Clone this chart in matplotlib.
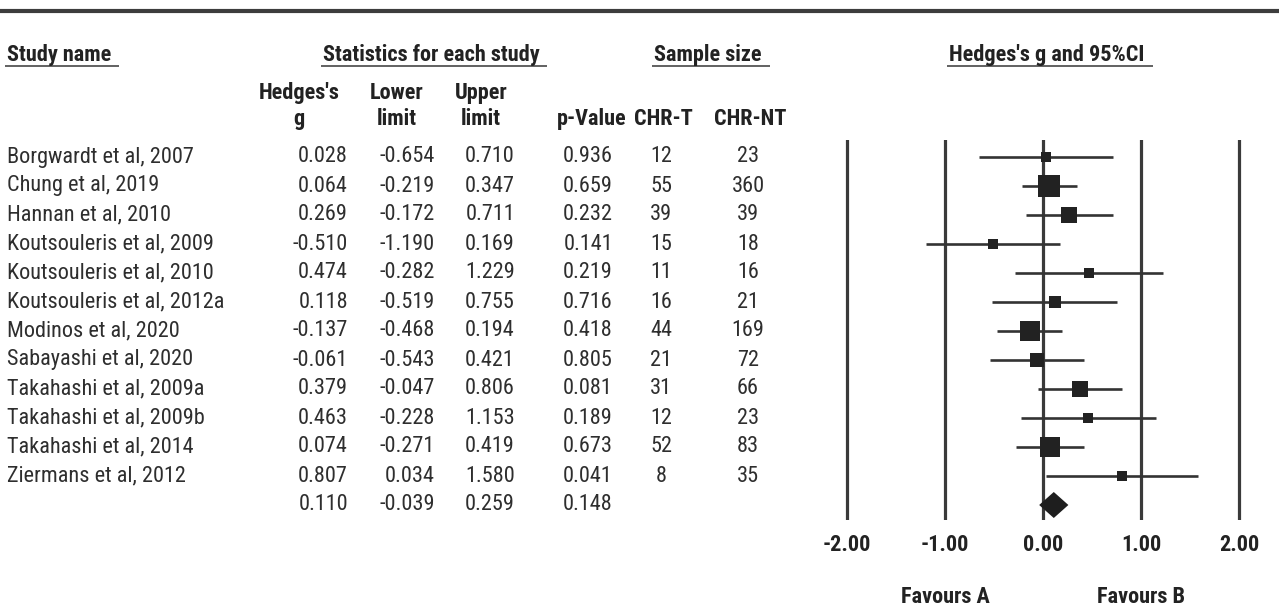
import numpy as np
import matplotlib
matplotlib.use("Agg")
import matplotlib.pyplot as plt
from matplotlib import font_manager

# ---------------- data ----------------
studies = ["Borgwardt et al, 2007", "Chung et al, 2019", "Hannan et al, 2010",
           "Koutsouleris et al, 2009", "Koutsouleris et al, 2010",
           "Koutsouleris et al, 2012a", "Modinos et al, 2020",
           "Sabayashi et al, 2020", "Takahashi et al, 2009a",
           "Takahashi et al, 2009b", "Takahashi et al, 2014",
           "Ziermans et al, 2012"]
hedges_g = [0.028, 0.064, 0.269, -0.510, 0.474, 0.118, -0.137, -0.061,
            0.379, 0.463, 0.074, 0.807]
lower_lim = [-0.654, -0.219, -0.172, -1.190, -0.282, -0.519, -0.468,
             -0.543, -0.047, -0.228, -0.271, 0.034]
upper_lim = [0.710, 0.347, 0.711, 0.169, 1.229, 0.755, 0.194, 0.421,
             0.806, 1.153, 0.419, 1.580]
p_values = [0.936, 0.659, 0.232, 0.141, 0.219, 0.716, 0.418, 0.805,
            0.081, 0.189, 0.673, 0.041]
n_chr_t = [12, 55, 39, 15, 11, 16, 44, 21, 31, 12, 52, 8]
n_chr_nt = [23, 360, 39, 18, 16, 21, 169, 72, 66, 23, 83, 35]
summary_g, summary_lower, summary_upper, summary_p = 0.110, -0.039, 0.259, 0.148
x_ticks = [-2, -1, 0, 1, 2]
x_tick_labels = ["-2.00", "-1.00", "0.00", "1.00", "2.00"]

# ---------------- fonts ----------------
weights_by_name = {}
for f in font_manager.fontManager.ttflist:
    weights_by_name.setdefault(f.name, set()).add(f.weight)
FONT, FS = "Liberation Sans", 14
for cand in ["Liberation Sans Narrow", "Arial Narrow", "Roboto Condensed",
             "IBM Plex Sans Condensed"]:
    ws = weights_by_name.get(cand, set())
    if 400 in ws and 700 in ws:
        FONT, FS = cand, 16
        break
plt.rcParams["font.family"] = [FONT, "DejaVu Sans"]

W, H = 1279, 609
fig = plt.figure(figsize=(W / 100, H / 100), dpi=100)

tab = fig.add_axes([0, 0, 1, 1])
tab.set_xlim(0, W)
tab.set_ylim(H, 0)
tab.axis("off")

ROW0, ROWH = 157, 29
TXT = "#2e2e2e"
HDR = "#222222"

# top rule
tab.plot([0, W], [11, 11], color="#3d3d3d", lw=3.0, solid_capstyle="butt")

# headers
hdrs = [("Study name", 7, "left"), ("Statistics for each study", 431, "center"),
        ("Sample size", 708, "center"), ("Hedges's g and 95%CI", 1047, "center")]
hdr_objs = []
for txt, x, ha in hdrs:
    t = tab.text(x, 55, txt, ha=ha, va="center", fontsize=FS, fontweight="bold",
                 color=HDR)
    hdr_objs.append(t)

sub1 = [("Hedges's", 299), ("Lower", 397), ("Upper", 481)]
sub2 = [("g", 299), ("limit", 397), ("limit", 481), ("p-Value", 592),
        ("CHR-T", 663), ("CHR-NT", 750)]
for txt, x in sub1:
    tab.text(x, 93, txt, ha="center", va="center", fontsize=FS,
             fontweight="bold", color=HDR)
for txt, x in sub2:
    tab.text(x, 119, txt, ha="center", va="center", fontsize=FS,
             fontweight="bold", color=HDR)

# rows
col_g, col_lo, col_up, col_p, col_t, col_nt = 348, 435, 515, 613, 661, 748
for i, name in enumerate(studies):
    y = ROW0 + ROWH * i
    tab.text(7, y, name, ha="left", va="center", fontsize=FS, color=TXT)
    tab.text(col_g, y, f"{hedges_g[i]:.3f}", ha="right", va="center", fontsize=FS, color=TXT)
    tab.text(col_lo, y, f"{lower_lim[i]:.3f}", ha="right", va="center", fontsize=FS, color=TXT)
    tab.text(col_up, y, f"{upper_lim[i]:.3f}", ha="right", va="center", fontsize=FS, color=TXT)
    tab.text(col_p, y, f"{p_values[i]:.3f}", ha="right", va="center", fontsize=FS, color=TXT)
    tab.text(col_t, y, f"{n_chr_t[i]}", ha="center", va="center", fontsize=FS, color=TXT)
    tab.text(col_nt, y, f"{n_chr_nt[i]}", ha="center", va="center", fontsize=FS, color=TXT)
ys = ROW0 + ROWH * len(studies)
tab.text(col_g, ys, f"{summary_g:.3f}", ha="right", va="center", fontsize=FS, color=TXT)
tab.text(col_lo, ys, f"{summary_lower:.3f}", ha="right", va="center", fontsize=FS, color=TXT)
tab.text(col_up, ys, f"{summary_upper:.3f}", ha="right", va="center", fontsize=FS, color=TXT)
tab.text(col_p, ys, f"{summary_p:.3f}", ha="right", va="center", fontsize=FS, color=TXT)

# forest axes: data x -> pixel mapping 0 -> 1043, 98 px/unit
X0, SC = 1043, 98
left_px, right_px, top_px, bot_px = 820, 1270, 140, 520
ax = fig.add_axes([left_px / W, 1 - bot_px / H, (right_px - left_px) / W,
                   (bot_px - top_px) / H])
ax.set_xlim((left_px - X0) / SC, (right_px - X0) / SC)
ax.set_ylim((bot_px - ROW0) / ROWH, (top_px - ROW0) / ROWH)
ax.patch.set_alpha(0)
for s in ax.spines.values():
    s.set_visible(False)
ax.set_yticks([])
ax.set_xticks(x_ticks)
ax.set_xticklabels(x_tick_labels, fontsize=FS, fontweight="bold", color=HDR)
ax.tick_params(axis="x", length=0, pad=10)

for xt in x_ticks:
    ax.axvline(xt, color="#3a3a3a", lw=2.3, zorder=1)

# random-effects weights (DerSimonian-Laird) for box sizes
g = np.array(hedges_g)
se = (np.array(upper_lim) - np.array(lower_lim)) / 3.92
wf = 1 / se**2
gbar = np.sum(wf * g) / np.sum(wf)
Q = np.sum(wf * (g - gbar) ** 2)
C = np.sum(wf) - np.sum(wf**2) / np.sum(wf)
tau2 = max(0.0, (Q - (len(g) - 1)) / C)
tau2 = max(tau2, 0.01)
wr = 1 / (se**2 + tau2)
side_px = 22 * np.sqrt(wr / wr.max())

for i in range(len(studies)):
    ax.plot([lower_lim[i], upper_lim[i]], [i, i], color="#333333", lw=1.9,
            solid_capstyle="butt", zorder=2)
    ax.plot(hedges_g[i], i, marker="s", markersize=side_px[i] * 72 / 100,
            color="#222222", markeredgewidth=0, zorder=3)

yd = len(studies)
hd = 13 / ROWH
ax.fill([summary_lower, summary_g, summary_upper, summary_g],
        [yd, yd - hd, yd, yd + hd], color="#1e1e1e", zorder=3, lw=0)

tab.text(X0 + SC * (-1), 597, "Favours A", ha="center", va="center", fontsize=FS,
         fontweight="bold", color=HDR)
tab.text(X0 + SC * (1), 597, "Favours B", ha="center", va="center", fontsize=FS,
         fontweight="bold", color=HDR)

# underlines for headers
fig.canvas.draw()
r = fig.canvas.get_renderer()
for t in hdr_objs:
    bb = t.get_window_extent(renderer=r)
    x1, x2 = bb.x0 - 2, bb.x1 + 8
    tab.plot([x1, x2], [66, 66], color="#555555", lw=1.3, solid_capstyle="butt")

fig.savefig("out.png", dpi=100)
